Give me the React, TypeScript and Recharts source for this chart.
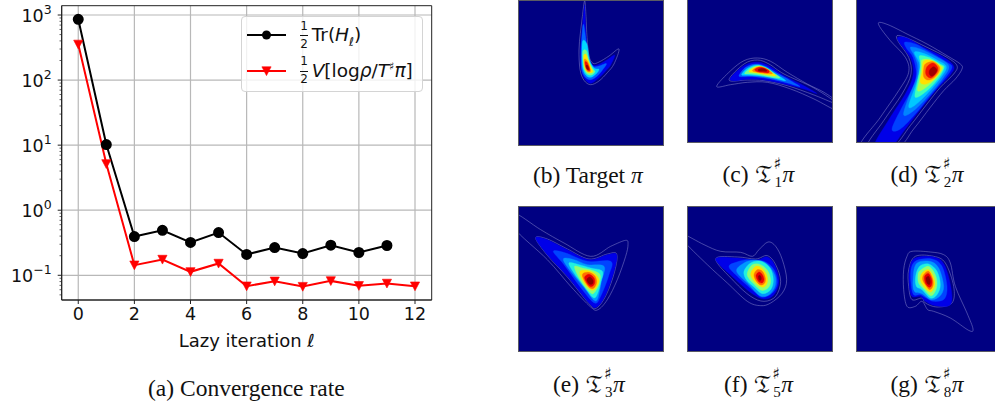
import { CartesianGrid, Legend, Line, LineChart, ReferenceArea, Scatter, ScatterChart, XAxis, YAxis } from "recharts";

const iterations = [0, 1, 2, 3, 4, 5, 6, 7, 8, 9, 10, 11, 12];
const traceValues = [859, 10.2, 0.394, 0.49, 0.32, 0.454, 0.209, 0.267, 0.216, 0.29, 0.224, 0.287];
const varianceValues = [354, 5.16, 0.143, 0.175, 0.113, 0.152, 0.068, 0.081, 0.067, 0.082, 0.069, 0.075, 0.068];
const xTicks = [0, 2, 4, 6, 8, 10, 12];
const majorTicks = [0.1, 1, 10, 100, 1000];
const tickExponents: Record<number, string> = { 0.1: "\u22121", 1: "0", 10: "1", 100: "2", 1000: "3" };
const minorTicks = [
  0.05, 0.06, 0.07, 0.08, 0.09, 0.2, 0.3, 0.4, 0.5, 0.6, 0.7, 0.8, 0.9, 2, 3, 4, 5, 6, 7, 8, 9, 20, 30, 40, 50, 60, 70,
  80, 90, 200, 300, 400, 500, 600, 700, 800, 900,
];

type Pts = number[][];

// contours for each panel, each panel axis spans 432 units, lowest level first
const targetLines: Pts[] = [
  [[222, 2], [215, 50], [209, 100], [205, 150], [208, 208], [220, 241], [240, 254], [265, 243], [290, 218], [310, 192], [325, 147], [295, 168], [265, 186], [247, 190], [235, 168], [229, 113], [226, 50]],
];
const targetLevels: Pts[] = [
  [[222, 15], [216, 73], [211, 123], [209, 173], [212, 213], [223, 238], [240, 250], [263, 235], [283, 215], [300, 195], [312, 165], [287, 181], [265, 193], [247, 195], [233, 173], [227, 113], [224, 63]],
  [[218, 73], [213, 123], [211, 168], [213, 208], [223, 231], [240, 239], [260, 228], [277, 208], [287, 191], [265, 198], [247, 198], [233, 168], [225, 113]],
  [[216, 123], [214, 168], [216, 203], [225, 225], [240, 232], [257, 221], [265, 208], [251, 205], [237, 181], [229, 133]],
  [[217, 153], [217, 183], [220, 208], [230, 223], [243, 225], [253, 215], [247, 206], [235, 183], [228, 153]],
  [[219, 168], [220, 193], [225, 211], [235, 219], [247, 215], [240, 200], [232, 178], [226, 163]],
  [[221, 178], [223, 198], [229, 213], [239, 215], [237, 201], [230, 183]],
  [[223, 186], [225, 200], [231, 211], [238, 211], [234, 198], [228, 186]],
  [[226, 198], [229, 207], [234, 209], [233, 201], [229, 195]],
];
const firstLines: Pts[] = [
  [[108, 257], [150, 210], [190, 180], [230, 172], [270, 182], [320, 215], [380, 250], [430, 275], [470, 305], [470, 330], [400, 295], [330, 265], [260, 245], [200, 245], [150, 252]],
  [[145, 238], [190, 190], [230, 178], [265, 190], [310, 220], [400, 262], [470, 310], [400, 283], [320, 255], [250, 240], [200, 238]],
];
const firstLevels: Pts[] = [
  [[148, 235], [170, 210], [200, 190], [235, 185], [270, 198], [310, 225], [360, 250], [408, 278], [370, 265], [310, 250], [250, 238], [200, 236], [165, 240]],
  [[175, 225], [195, 200], [225, 190], [255, 197], [290, 218], [330, 240], [358, 258], [320, 247], [270, 235], [220, 228], [190, 228]],
  [[183, 222], [200, 203], [228, 193], [255, 200], [285, 220], [315, 240], [275, 232], [235, 226], [200, 224]],
  [[192, 218], [208, 203], [232, 195], [258, 203], [280, 218], [298, 232], [265, 228], [230, 222], [205, 220]],
  [[205, 213], [218, 202], [238, 197], [258, 205], [275, 217], [285, 226], [255, 222], [228, 217]],
  [[215, 210], [228, 200], [245, 199], [262, 207], [275, 219], [250, 218], [230, 215]],
  [[222, 207], [235, 200], [250, 202], [265, 210], [262, 217], [245, 215], [230, 213]],
  [[232, 207], [243, 203], [256, 207], [258, 212], [245, 212], [235, 211]],
];
const secondLines: Pts[] = [
  [[118, 65], [150, 75], [200, 100], [260, 130], [320, 165], [360, 190], [365, 205], [345, 235], [310, 270], [270, 320], [220, 385], [170, 440], [60, 440], [120, 350], [175, 270], [205, 215], [195, 170], [150, 120], [118, 78]],
  [[170, 105], [200, 112], [260, 140], [320, 170], [350, 195], [340, 220], [300, 260], [260, 310], [210, 375], [155, 440], [80, 440], [130, 360], [185, 280], [212, 220], [205, 170], [175, 125]],
];
const secondLevels: Pts[] = [
  [[172, 110], [200, 112], [250, 140], [310, 170], [340, 197], [330, 222], [290, 265], [245, 320], [195, 385], [150, 440], [100, 440], [150, 350], [195, 280], [218, 225], [212, 175], [180, 130]],
  [[193, 125], [225, 130], [270, 155], [320, 185], [335, 200], [315, 232], [270, 285], [225, 340], [180, 385], [155, 385], [185, 320], [215, 265], [228, 220], [218, 170], [200, 145]],
  [[210, 140], [240, 145], [290, 170], [325, 195], [310, 230], [265, 285], [220, 330], [190, 343], [205, 290], [228, 235], [232, 195], [222, 165]],
  [[222, 155], [250, 158], [290, 178], [318, 198], [300, 233], [260, 280], [222, 315], [205, 317], [222, 265], [235, 225], [238, 190]],
  [[238, 165], [265, 170], [300, 190], [312, 200], [295, 232], [258, 272], [225, 290], [230, 250], [238, 210], [240, 185]],
  [[245, 178], [270, 177], [298, 192], [308, 203], [288, 232], [255, 262], [232, 270], [238, 235], [243, 200]],
  [[250, 182], [275, 180], [298, 195], [302, 208], [285, 232], [258, 250], [240, 245], [245, 215]],
  [[255, 190], [278, 183], [297, 198], [295, 215], [280, 232], [262, 238], [250, 228], [250, 205]],
  [[260, 198], [278, 187], [292, 200], [290, 215], [276, 230], [264, 230], [256, 218]],
  [[268, 208], [280, 198], [290, 208], [284, 220], [274, 227], [267, 220]],
];
const thirdLines: Pts[] = [
  [[10, 40], [90, 90], [160, 130], [240, 170], [300, 140], [345, 122], [352, 135], [345, 170], [320, 240], [290, 300], [262, 330], [240, 322], [180, 260], [110, 180], [10, 85]],
  [[75, 115], [110, 118], [170, 148], [235, 178], [290, 163], [318, 163], [312, 215], [287, 285], [258, 325], [235, 312], [170, 232], [110, 167]],
];
const thirdLevels: Pts[] = [
  [[75, 115], [110, 120], [170, 150], [235, 180], [290, 165], [318, 165], [310, 215], [285, 285], [258, 322], [235, 310], [170, 230], [110, 165]],
  [[128, 155], [165, 160], [230, 185], [300, 185], [295, 225], [270, 290], [252, 310], [215, 270], [160, 195]],
  [[158, 178], [190, 180], [230, 195], [280, 200], [272, 245], [262, 295], [250, 302], [225, 270], [180, 215]],
  [[175, 190], [205, 195], [240, 205], [275, 215], [270, 250], [258, 288], [245, 292], [220, 260], [190, 220]],
  [[192, 200], [215, 205], [245, 212], [268, 225], [265, 255], [250, 280], [240, 280], [218, 255], [200, 225]],
  [[208, 215], [225, 212], [250, 220], [265, 240], [258, 262], [245, 272], [228, 260], [212, 235]],
  [[215, 225], [232, 218], [252, 228], [258, 248], [250, 265], [238, 265], [225, 250]],
  [[222, 232], [235, 224], [250, 235], [252, 250], [245, 260], [235, 258], [226, 245]],
  [[229, 238], [238, 232], [247, 242], [246, 252], [238, 254], [231, 247]],
];
const fifthLines: Pts[] = [
  [[5, 102], [70, 135], [120, 155], [180, 158], [215, 170], [235, 150], [262, 127], [285, 140], [305, 180], [318, 240], [305, 280], [270, 310], [240, 318], [200, 305], [140, 250], [80, 195], [5, 120]],
  [[105, 178], [170, 172], [225, 178], [260, 168], [285, 195], [300, 245], [285, 290], [250, 305], [210, 290], [160, 245]],
];
const fifthLevels: Pts[] = [
  [[105, 178], [170, 175], [225, 182], [260, 172], [283, 198], [295, 245], [280, 285], [250, 298], [212, 280], [160, 235]],
  [[145, 200], [175, 185], [205, 180], [250, 185], [280, 210], [290, 250], [275, 280], [245, 293], [220, 275], [170, 230]],
  [[168, 215], [190, 190], [220, 182], [255, 190], [282, 225], [283, 260], [265, 285], [238, 288], [205, 255]],
  [[190, 215], [210, 190], [240, 185], [268, 205], [278, 240], [270, 270], [245, 282], [220, 262], [197, 240]],
  [[200, 220], [215, 195], [240, 195], [262, 215], [270, 245], [262, 265], [242, 272], [222, 255], [205, 237]],
  [[210, 222], [225, 200], [243, 205], [258, 225], [260, 248], [250, 262], [235, 258], [218, 242]],
  [[220, 225], [230, 210], [245, 215], [254, 235], [252, 250], [240, 256], [226, 243]],
  [[226, 228], [235, 217], [245, 225], [250, 240], [244, 250], [233, 245]],
  [[233, 230], [238, 227], [242, 235], [240, 242], [235, 240]],
];
const eighthLines: Pts[] = [
  [[215, 155], [270, 157], [310, 165], [330, 190], [345, 260], [380, 340], [398, 388], [385, 392], [330, 355], [280, 335], [262, 330], [245, 305], [225, 320], [200, 320], [190, 270], [190, 210], [200, 170]],
  [[225, 170], [280, 170], [315, 190], [340, 260], [335, 310], [290, 322], [255, 310], [245, 295], [215, 300], [205, 260], [205, 210]],
];
const eighthLevels: Pts[] = [
  [[225, 175], [280, 172], [312, 195], [332, 265], [330, 315], [285, 318], [255, 305], [240, 290], [215, 290], [207, 255], [208, 205]],
  [[230, 182], [275, 178], [305, 200], [320, 260], [312, 298], [280, 305], [258, 295], [240, 285], [220, 285], [212, 250], [213, 205]],
  [[228, 192], [268, 185], [295, 205], [310, 260], [298, 290], [272, 300], [245, 282], [222, 275], [218, 240]],
  [[238, 200], [265, 193], [290, 215], [300, 255], [290, 285], [270, 295], [245, 270], [228, 260], [226, 230]],
  [[240, 212], [265, 200], [285, 225], [290, 255], [282, 280], [270, 288], [250, 268], [235, 250], [233, 225]],
  [[245, 220], [265, 210], [280, 232], [284, 255], [275, 275], [265, 275], [250, 260], [240, 240]],
  [[250, 225], [265, 215], [277, 238], [278, 258], [268, 270], [255, 255], [247, 240]],
  [[253, 230], [265, 222], [275, 243], [272, 260], [265, 262], [255, 250]],
  [[257, 235], [265, 230], [270, 245], [267, 255], [260, 250]],
];

const blue8 = ["#0000e8", "#0060ff", "#00d8ff", "#70ff90", "#ffe800", "#ff8800", "#f01000", "#900000"];
const blue9 = ["#0000e8", "#0044ff", "#0098ff", "#20f0e0", "#90ff70", "#ffe000", "#ff7000", "#e80000", "#8c0000"];
const blue10 = ["#0000e8", "#0040ff", "#0084ff", "#00c8ff", "#40ffb8", "#a8ff50", "#ffe000", "#ff8000", "#f01000", "#a00000"];

const chartData = iterations.map((it, i) => ({ it, trace: traceValues[i], variance: varianceValues[i] }));

const sans = "'DejaVu Sans', sans-serif";
const serif = "'Liberation Serif', serif";

// closed curve through the contour points, the basis curve pulls them inwards
function smoothClosed(context: any) {
  let pts: number[][] = [];
  return {
    areaStart() {},
    areaEnd() {},
    lineStart() {
      pts = [];
    },
    point(x: number, y: number) {
      pts.push([x, y]);
    },
    lineEnd() {
      const n = pts.length;
      if (!n) return;
      context.moveTo(pts[0][0], pts[0][1]);
      for (let i = 0; i < n; i++) {
        const a = pts[(i - 1 + n) % n];
        const b = pts[i];
        const c = pts[(i + 1) % n];
        const d = pts[(i + 2) % n];
        context.bezierCurveTo(b[0] + (c[0] - a[0]) / 6, b[1] + (c[1] - a[1]) / 6, c[0] - (d[0] - b[0]) / 6, c[1] - (d[1] - b[1]) / 6, c[0], c[1]);
      }
      context.closePath();
    },
  };
}

function YTick({ x, y, payload }: any) {
  const major = majorTicks.includes(payload.value);
  return (
    <g>
      <line x1={x} x2={x - (major ? 4 : 2.2)} y1={y} y2={y} stroke="#222" strokeWidth={major ? 1 : 0.7} />
      {major && (
        <text x={x - 10} y={y + 7} textAnchor="end" fontFamily={sans} fontSize={17.5} fill="#111">
          10
          <tspan fontSize={12.5} dy={-8}>
            {tickExponents[payload.value]}
          </tspan>
        </text>
      )}
    </g>
  );
}

function DownTriangle({ cx, cy }: any) {
  if (cx == null || cy == null) return null;
  return <path d={`M${cx - 4.6} ${cy - 4.2}H${cx + 4.6}L${cx} ${cy + 4.6}Z`} fill="#ff0000" stroke="#ff0000" strokeWidth={0.6} />;
}

function Half({ top }: { top: number }) {
  return (
    <>
      <span style={{ position: "absolute", left: 58.6, top: top - 16, fontSize: 12 }}>1</span>
      <span style={{ position: "absolute", left: 58.6, top: top + 0.5, width: 8, height: 1, background: "#111" }} />
      <span style={{ position: "absolute", left: 58.6, top: top + 2, fontSize: 12 }}>2</span>
    </>
  );
}

function MathLegend() {
  const m = { fontStyle: "italic" };
  return (
    <div
      style={{
        position: "relative",
        boxSizing: "border-box",
        width: 182,
        height: 76,
        background: "rgba(255,255,255,0.8)",
        border: "1px solid #d4d4d4",
        borderRadius: 4,
        fontFamily: sans,
        color: "#111",
        lineHeight: "normal",
      }}
    >
      <svg width={60} height={74} style={{ position: "absolute", left: 0, top: 0 }}>
        <line x1={5} x2={44} y1={18} y2={18} stroke="#000" strokeWidth={2} />
        <circle cx={24.5} cy={18} r={4.5} fill="#000" />
        <line x1={5} x2={44} y1={54} y2={54} stroke="#ff0000" strokeWidth={2} />
        <DownTriangle cx={24.5} cy={54} />
      </svg>
      <Half top={18} />
      <span style={{ position: "absolute", left: 70, top: 7, fontSize: 18.5, whiteSpace: "nowrap" }}>
        Tr(<span style={m}>H</span>
        <sub style={{ ...m, fontSize: 12, lineHeight: 0 }}>ℓ</sub>)
      </span>
      <Half top={53.5} />
      <span style={{ position: "absolute", left: 70, top: 43, fontSize: 18.5, whiteSpace: "nowrap" }}>
        <span style={m}>V</span>[log<span style={m}>ρ</span>/<span style={m}>T</span>
        <sup style={{ fontSize: 11, lineHeight: 0 }}>♯</sup>
        <span style={m}>π</span>]
      </span>
    </div>
  );
}

function ConvergenceChart() {
  return (
    <div style={{ position: "absolute", left: 0, top: 0 }}>
      <LineChart width={450} height={360} data={chartData} margin={{ top: 5.7, right: 18.3, bottom: 0, left: 0 }}>
        <CartesianGrid horizontalValues={majorTicks} verticalValues={xTicks} stroke="#b8b8b8" strokeWidth={1.2} />
        <XAxis
          dataKey="it"
          type="number"
          domain={[-0.59, 12.595]}
          ticks={xTicks}
          interval={0}
          height={60}
          allowDataOverflow
          tick={{ fill: "#111", fontSize: 17.5, fontFamily: sans }}
          tickSize={4}
          tickMargin={4}
          tickLine={{ stroke: "#222" }}
          axisLine={{ stroke: "#222" }}
          label={{ value: "Lazy iteration ℓ", position: "insideBottom", offset: 13, fill: "#111", fontSize: 18, fontFamily: sans }}
        />
        <YAxis
          scale="log"
          type="number"
          domain={[0.0417, 1390]}
          ticks={[...majorTicks, ...minorTicks]}
          interval={0}
          width={61.7}
          allowDataOverflow
          tick={YTick}
          tickSize={0}
          tickMargin={0}
          tickLine={false}
          axisLine={{ stroke: "#222" }}
        />
        <ReferenceArea x1={-0.59} x2={12.595} y1={0.0417} y2={1390} fill="none" stroke="#222" strokeWidth={1} />
        <Line dataKey="trace" stroke="#000" strokeWidth={2} dot={{ r: 4.5, fill: "#000", stroke: "#000" }} isAnimationActive={false} />
        <Line dataKey="variance" stroke="#ff0000" strokeWidth={2} dot={DownTriangle} isAnimationActive={false} />
        <Legend
          layout="vertical"
          align="center"
          verticalAlign="middle"
          content={MathLegend}
          wrapperStyle={{ left: 240.7, top: 15.7, width: 182, height: 76 }}
        />
      </LineChart>
    </div>
  );
}

function toPoints(contour: Pts) {
  return contour.map(([x, y]) => ({ x, y }));
}

type PanelProps = { left: number; top: number; startX: number; startY: number; lines: Pts[]; levels: Pts[]; colors: string[] };

function ContourPanel({ left, top, startX, startY, lines, levels, colors }: PanelProps) {
  const size = 144;
  return (
    <div style={{ position: "absolute", left, top, width: size, height: size, background: "#000082", outline: "1px solid #5a5a64" }}>
      <ScatterChart width={size} height={size} margin={{ top: 0, right: 0, bottom: 0, left: 0 }}>
        <XAxis dataKey="x" type="number" domain={[startX, startX + 432]} hide allowDataOverflow />
        <YAxis dataKey="y" type="number" domain={[startY, startY + 432]} reversed hide allowDataOverflow />
        {lines.map((contour, i) => (
          <Scatter
            key={`line${i}`}
            data={toPoints(contour)}
            line={{ fill: "none", stroke: "#8c8cd0", strokeWidth: 0.5 }}
            lineJointType={smoothClosed as any}
            shape={() => <g />}
            isAnimationActive={false}
          />
        ))}
        {levels.map((contour, i) => (
          <Scatter
            key={`level${i}`}
            data={toPoints(contour)}
            line={{ fill: colors[i], stroke: colors[i], strokeWidth: 0.4 }}
            lineJointType={smoothClosed as any}
            shape={() => <g />}
            isAnimationActive={false}
          />
        ))}
      </ScatterChart>
    </div>
  );
}

const captionStyle = { position: "absolute", fontFamily: serif, fontSize: 23.5, color: "#111", whiteSpace: "nowrap", lineHeight: "24px" } as const;

function Caption({ left, top, tag, index }: { left: number; top: number; tag: string; index: string }) {
  return (
    <div style={{ ...captionStyle, left, top }}>
      {tag} <span style={{ fontFamily: "'DejaVu Math TeX Gyre', 'DejaVu Serif', serif", fontSize: 21 }}>𝔗</span>
      <span style={{ display: "inline-block", position: "relative", width: 9, height: 20 }}>
        <span style={{ position: "absolute", left: 0, top: -10, fontSize: 16, fontFamily: "'DejaVu Serif', serif" }}>♯</span>
        <span style={{ position: "absolute", left: 1, top: 8, fontSize: 15 }}>{index}</span>
      </span>
      <span style={{ fontStyle: "italic" }}>π</span>
    </div>
  );
}

export default function App() {
  return (
    <div style={{ position: "fixed", left: 0, top: 0, width: 995, height: 402, overflow: "hidden", background: "#fff" }}>
      <ConvergenceChart />
      <div style={{ ...captionStyle, left: 148, top: 376 }}>(a) Convergence rate</div>

      <ContourPanel left={518.5} top={1} startX={25} startY={3} lines={targetLines} levels={targetLevels} colors={blue8} />
      <ContourPanel left={687.5} top={-2.5} startX={22} startY={-8} lines={firstLines} levels={firstLevels} colors={blue8} />
      <ContourPanel left={856.7} top={-2.5} startX={50} startY={-8} lines={secondLines} levels={secondLevels} colors={blue10} />
      <ContourPanel left={518.5} top={207.3} startX={25} startY={22} lines={thirdLines} levels={thirdLevels} colors={blue9} />
      <ContourPanel left={687.5} top={207.3} startX={22} startY={22} lines={fifthLines} levels={fifthLevels} colors={blue9} />
      <ContourPanel left={856.7} top={207.3} startX={50} startY={22} lines={eighthLines} levels={eighthLevels} colors={blue9} />

      <div style={{ ...captionStyle, left: 533, top: 163 }}>
        (b) Target <span style={{ fontStyle: "italic" }}>π</span>
      </div>
      <Caption left={722.5} top={162} tag="(c)" index="1" />
      <Caption left={890.5} top={162} tag="(d)" index="2" />
      <Caption left={553} top={372} tag="(e)" index="3" />
      <Caption left={724} top={372} tag="(f)" index="5" />
      <Caption left={890.5} top={372} tag="(g)" index="8" />
    </div>
  );
}
